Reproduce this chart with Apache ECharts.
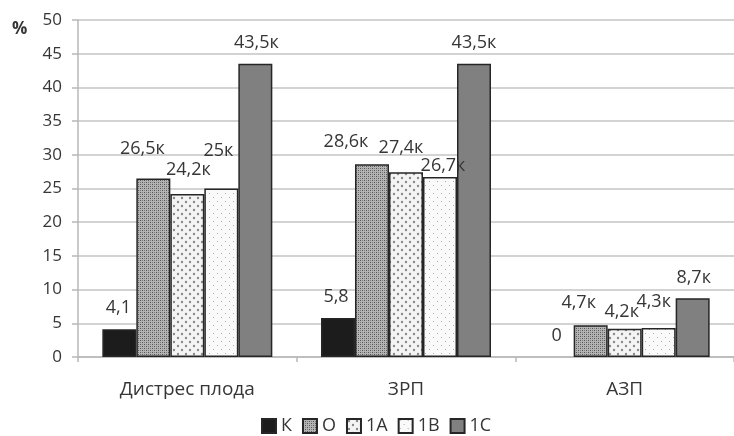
<!DOCTYPE html>
<html>
<head>
<meta charset="utf-8">
<script src="https://cdn.jsdelivr.net/npm/echarts@6/dist/echarts.min.js"></script>
<style>
  html, body { margin: 0; padding: 0; background: #fff; }
  #chart { width: 734px; height: 436px; }
</style>
</head>
<body>
<div id="chart"></div>
<script>
// Categories and series values (percent)
const categories = ['Дистрес плода', 'ЗРП', 'АЗП'];
const seriesNames = ['К', 'О', '1А', '1В', '1С'];
const valuesK  = [4.1, 5.8, 0];
const valuesO  = [26.5, 28.6, 4.7];
const values1A = [24.2, 27.4, 4.2];
const values1B = [25, 26.7, 4.3];
const values1C = [43.5, 43.5, 8.7];
const labelSuffix = ['', 'к', 'к', 'к', 'к'];
const yTicks = { min: 0, max: 50, interval: 5 };

// Hand-placed label nudges [dx, dy] per series, per category
const labelShift = [
  [[-1, -7], [-2, -7], [0, -7]],
  [[-11, -16], [-26, -8], [-12, -8]],
  [[1, -10], [-5, -10], [-3, -3]],
  [[-3, -24], [3, 3], [-5, -12]],
  [[1, -7], [0, -7], [1, -6]]
];

// Fill patterns drawn on small canvases
function makePattern(size, bg, draw) {
  const c = document.createElement('canvas');
  c.width = size; c.height = size;
  const g = c.getContext('2d');
  g.fillStyle = bg; g.fillRect(0, 0, size, size);
  draw(g);
  return { image: c, repeat: 'repeat' };
}
const fillO = makePattern(4, '#b4b4b4', g => {
  g.fillStyle = '#555';
  g.fillRect(0, 0, 1, 1); g.fillRect(2, 2, 1, 1);
  g.fillStyle = '#7a7a7a';
  g.fillRect(2, 0, 1, 1); g.fillRect(0, 2, 1, 1);
});
const fill1A = makePattern(8, '#f4f4f4', g => {
  g.fillStyle = '#8a8a8a';
  g.beginPath(); g.arc(2, 2, 1.2, 0, Math.PI * 2); g.fill();
  g.beginPath(); g.arc(6, 6, 1.2, 0, Math.PI * 2); g.fill();
});
const fill1B = makePattern(8, '#fafafa', g => {
  g.fillStyle = '#aaa';
  g.fillRect(1, 1, 1, 1); g.fillRect(5, 5, 1, 1);
});
const fills = ['#1c1c1c', fillO, fill1A, fill1B, '#808080'];
const allValues = [valuesK, valuesO, values1A, values1B, values1C];

const fontFamily = '"Open Sans", "DejaVu Sans", sans-serif';
const textColor = '#363636';

const series = seriesNames.map((name, si) => ({
  name,
  type: 'bar',
  barWidth: 34,
  barGap: '0%',
  itemStyle: { color: fills[si], borderColor: '#262626', borderWidth: 1.5 },
  data: allValues[si].map((v, ci) => ({
    value: v,
    // a zero-height bar draws nothing, not even its outline
    itemStyle: v === 0 ? { borderWidth: 0 } : undefined,
    label: { offset: labelShift[si][ci] }
  })),
  label: {
    show: true,
    position: 'top',
    distance: 5,
    fontFamily,
    fontSize: 18,
    color: textColor,
    formatter: p => String(p.value).replace('.', ',') + labelSuffix[si]
  }
}));

const chart = echarts.init(document.getElementById('chart'), null, { renderer: 'canvas' });
chart.setOption({
  animation: false,
  backgroundColor: '#fff',
  grid: { left: 78, right: -10, top: 20, bottom: 79, containLabel: false },
  legend: {
    data: seriesNames,
    left: 256,
    top: 412,
    icon: 'rect',
    itemWidth: 14,
    itemHeight: 14,
    itemGap: 10,
    textStyle: { fontFamily, fontSize: 18, color: textColor }
  },
  xAxis: {
    type: 'category',
    data: categories,
    boundaryGap: true,
    axisLine: { lineStyle: { color: '#b8b8b8', width: 1.5 } },
    axisTick: { show: true, length: 5, interval: 0, lineStyle: { color: '#b8b8b8', width: 1.5 } },
    axisLabel: { fontFamily, fontSize: 19, color: textColor, margin: 23 }
  },
  yAxis: {
    type: 'value',
    min: yTicks.min,
    max: yTicks.max,
    interval: yTicks.interval,
    axisLine: { show: true, lineStyle: { color: '#b8b8b8', width: 1.5 } },
    axisTick: { show: true, length: 6, lineStyle: { color: '#b8b8b8', width: 1.5 } },
    axisLabel: { fontFamily, fontSize: 17, color: textColor, margin: 16 },
    splitLine: { lineStyle: { color: '#c4c4c4', width: 1.5 } }
  },
  graphic: [{
    type: 'text',
    left: 12,
    top: 21,
    style: { text: '%', fontFamily, fontSize: 17, fontWeight: 'bold', fill: textColor }
  }],
  series
});
</script>
</body>
</html>
